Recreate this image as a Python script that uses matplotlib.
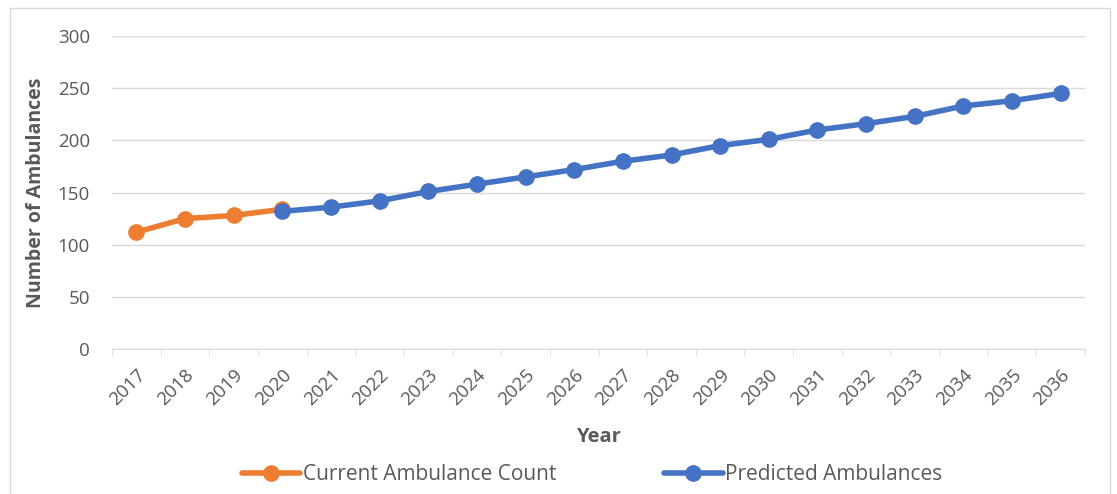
import matplotlib.pyplot as plt
from matplotlib.patches import Rectangle

years = [str(y) for y in range(2017, 2037)]
current_years = ['2017', '2018', '2019', '2020']
current_counts = [112, 125, 128, 134]
predicted_years = [str(y) for y in range(2020, 2037)]
predicted_counts = [132, 136, 142, 151, 158, 165, 172, 180, 186, 195, 201, 210,
                    216, 223, 233, 238, 245]

plt.rcParams['font.family'] = ['Open Sans', 'DejaVu Sans']
text_col = '#595959'

fig = plt.figure(figsize=(11.17, 4.94), dpi=100)
ax = fig.add_axes([0.1003, 0.2935, 0.8711, 0.6335])

xi = {y: i for i, y in enumerate(years)}
ax.plot([xi[y] for y in current_years], current_counts, color='#ED7D31', lw=4,
        marker='o', ms=11, label='Current Ambulance Count', solid_capstyle='round')
ax.plot([xi[y] for y in predicted_years], predicted_counts, color='#4472C4', lw=4,
        marker='o', ms=11, label='Predicted Ambulances', solid_capstyle='round')

ax.set_xlim(-0.5, len(years) - 0.5)
ax.set_ylim(0, 300)
ax.set_yticks(range(0, 301, 50))
ax.set_xticks(range(len(years)))
ax.set_xticklabels(years, rotation=45, ha='right', rotation_mode='anchor')
ax.set_xticks([i * 0.5 - 0.5 for i in range(2 * len(years) + 1)], minor=True)
ax.tick_params(axis='x', which='major', length=0, pad=12, labelsize=13.5, labelcolor=text_col)
ax.tick_params(axis='x', which='minor', length=4, color='#D9D9D9')
ax.tick_params(axis='y', length=0, pad=16, labelsize=13.5, labelcolor=text_col)

ax.grid(axis='y', color='#D9D9D9', lw=1)
ax.set_axisbelow(True)
for s in ['top', 'right', 'left']:
    ax.spines[s].set_visible(False)
ax.spines['bottom'].set_color('#D9D9D9')

ax.set_xlabel('Year', fontsize=14.5, fontweight='bold', color=text_col, labelpad=13)
ax.set_ylabel('Number of Ambulances', fontsize=14, fontweight='bold', color=text_col, labelpad=8)

fig.legend(loc='lower center', bbox_to_anchor=(0.53, -0.02), ncol=2, frameon=False,
           fontsize=15, labelcolor=text_col, handlelength=2.8, handletextpad=0.1,
           columnspacing=5.2)

fig.patches.append(Rectangle((0.009, -0.01), 0.985, 0.993, transform=fig.transFigure,
                             fill=False, edgecolor='#D9D9D9', lw=1))

plt.savefig('out.png', dpi=100)
